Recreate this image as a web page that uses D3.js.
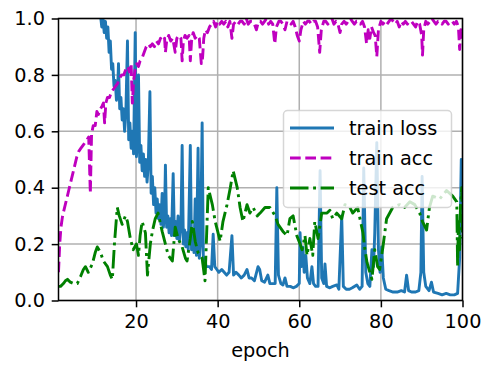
<!DOCTYPE html>
<html>
<head>
<meta charset="utf-8">
<script src="https://cdn.jsdelivr.net/npm/d3@7"></script>
<style>
  html, body { margin: 0; padding: 0; background: #fff; }
  svg { display: block; }
  text { font-family: "DejaVu Sans", sans-serif; }
</style>
</head>
<body>
<svg id="chart" width="486" height="365"></svg>
<script>
// ---- data: training curves recorded over 100 epochs ----
const xTicks = [20, 40, 60, 80, 100];
const yTicks = [0.0, 0.2, 0.4, 0.6, 0.8, 1.0];
const seriesNames = ["train loss", "train acc", "test acc"];

const lossEpochs = [
  1, 2, 3, 4, 5, 6, 7, 8, 9, 10,
  10.7, 11.3, 11.6, 11.9, 12.2, 12.5, 12.8, 13.1, 13.4, 13.7,
  14.0, 14.3, 14.6, 14.9, 15.2, 15.5, 15.7, 16.0, 16.3, 16.6,
  16.9, 17.2, 17.5, 17.9, 18.2, 18.5, 18.8, 19.1, 19.4, 19.8,
  20.1, 20.4, 20.6, 20.9, 21.2, 21.5, 21.8, 22.1, 22.4, 22.7,
  23.0, 23.4, 23.7, 24.0, 24.3, 24.6, 24.9, 25.2, 25.5, 25.8,
  26.1, 26.4, 26.7, 27.0, 27.2, 27.5, 27.8, 28.1, 28.4, 28.7,
  29.1, 29.4, 29.7, 30.0, 30.3, 30.6, 31.0, 31.3, 31.6, 31.9,
  32.2, 32.5, 32.8, 33.3, 33.6, 33.9, 34.2, 34.5, 34.8, 35.2,
  35.5, 35.8, 36.2, 36.5, 36.8, 37.2, 37.5, 38.0, 38.5, 38.9,
  39.3, 39.8, 40.3, 41.0, 41.6, 42.2, 42.8, 43.5, 43.9, 44.5,
  45.2, 45.8, 46.5, 47.2, 47.7, 48.3, 49.0, 49.9, 50.3, 50.8,
  51.5, 52.3, 52.8, 53.5, 54.1, 54.5, 54.9, 55.5, 56.0, 56.5,
  57.0, 57.8, 58.5, 59.3, 60.0, 60.2, 60.5, 60.9, 61.2, 61.6,
  62.0, 62.6, 63.1, 63.5, 64.0, 64.6, 65.1, 65.5, 66.0, 66.3,
  66.7, 67.5, 68.2, 69.2, 69.7, 70.4, 70.8, 71.5, 72.3, 73.0,
  74.1, 74.8, 75.4, 75.8, 76.3, 76.8, 77.3, 77.8, 78.2, 78.5,
  79.0, 79.4, 79.8, 80.2, 80.6, 81.2, 82.0, 83.0, 84.0, 85.0,
  85.8, 86.3, 86.8, 87.5, 88.5, 89.3, 89.8, 90.1, 90.5, 91.0,
  91.8, 92.4, 92.9, 94.0, 95.0, 96.0, 97.0, 98.0, 98.8, 99.3,
  99.7, 100];
const lossValues = [
  2.30, 2.10, 1.95, 1.80, 1.65, 1.55, 1.45, 1.35, 1.25, 1.15,
  1.07, 1.01, 0.97, 1.00, 0.95, 0.99, 0.93, 0.97, 0.88, 0.92,
  0.82, 0.84, 0.76, 0.78, 0.71, 0.75, 0.84, 0.68, 0.72, 0.64,
  0.68, 0.60, 0.66, 0.92, 0.57, 0.63, 0.54, 0.60, 0.52, 0.95,
  0.51, 0.58, 0.80, 0.49, 0.55, 0.46, 0.52, 0.44, 0.50, 0.42,
  0.48, 0.74, 0.38, 0.44, 0.34, 0.40, 0.31, 0.36, 0.29, 0.34,
  0.27, 0.38, 0.26, 0.31, 0.48, 0.26, 0.30, 0.24, 0.29, 0.23,
  0.45, 0.23, 0.28, 0.22, 0.30, 0.21, 0.26, 0.55, 0.20, 0.25,
  0.19, 0.24, 0.18, 0.55, 0.18, 0.23, 0.17, 0.36, 0.16, 0.54,
  0.15, 0.20, 0.63, 0.13, 0.15, 0.12, 0.12, 0.12, 0.11, 0.235,
  0.12, 0.11, 0.10, 0.11, 0.10, 0.09, 0.10, 0.23, 0.09, 0.10,
  0.09, 0.08, 0.09, 0.11, 0.08, 0.08, 0.07, 0.12, 0.11, 0.07,
  0.065, 0.09, 0.06, 0.06, 0.06, 0.40, 0.09, 0.06, 0.055, 0.08,
  0.05, 0.05, 0.045, 0.05, 0.06, 0.24, 0.12, 0.19, 0.10, 0.16,
  0.08, 0.06, 0.12, 0.06, 0.05, 0.05, 0.46, 0.08, 0.06, 0.13,
  0.05, 0.045, 0.05, 0.055, 0.04, 0.30, 0.05, 0.04, 0.04, 0.045,
  0.055, 0.04, 0.05, 0.47, 0.10, 0.06, 0.05, 0.18, 0.12, 0.24,
  0.56, 0.18, 0.10, 0.19, 0.08, 0.04, 0.035, 0.03, 0.03, 0.035,
  0.03, 0.09, 0.035, 0.03, 0.03, 0.035, 0.10, 0.44, 0.10, 0.05,
  0.035, 0.065, 0.03, 0.025, 0.02, 0.025, 0.02, 0.02, 0.025, 0.15,
  0.50, 0.48];

const trainAccEpochs = [1.0, 1.3, 1.6, 2.0, 2.5, 3.0, 3.5, 4.0, 4.5, 5.0, 5.5, 6.0, 6.5, 7.0, 7.5, 8.0, 8.4, 8.8, 9.1, 9.5,
  10.0, 10.4, 10.8, 11.3, 11.7, 12.0, 12.3, 12.6, 13.0, 13.5, 14.0, 14.5, 15.0, 15.5, 16.0, 16.5, 17.0, 17.5, 18.0, 18.4,
  18.8, 19.1, 19.4, 19.8, 20.2, 20.6, 21.0, 21.5, 22.0, 22.5, 23.0, 23.5, 24.0, 24.5, 25.0, 25.5, 26.0, 26.5, 27.0, 27.2,
  27.5, 28.0, 28.5, 29.0, 29.6, 30.0, 30.5, 31.0, 31.3, 31.6, 32.0, 32.5, 33.0, 33.3, 33.6, 34.0, 34.5, 35.0, 35.5, 36.0,
  36.3, 36.6, 37.0, 37.5, 38.0, 38.5, 39.0, 39.5, 40.0, 40.5, 41.0, 41.5, 42.0, 42.5, 43.0, 43.5, 43.9, 44.5, 45.0, 45.5,
  46.0, 46.5, 47.0, 47.5, 48.0, 48.5, 49.0, 49.5, 50.0, 50.5, 51.0, 51.5, 52.0, 52.5, 53.0, 53.5, 54.0, 54.4, 55.0, 55.5,
  56.0, 56.5, 57.0, 57.5, 58.0, 58.5, 59.0, 59.5, 60.0, 60.4, 61.0, 61.5, 62.0, 62.5, 63.0, 63.5, 64.0, 64.5, 65.0, 65.4,
  66.0, 66.5, 67.0, 67.5, 68.0, 68.5, 69.0, 69.5, 70.0, 70.4, 71.0, 71.5, 72.0, 72.5, 73.0, 73.5, 74.0, 74.5, 75.0, 75.5,
  76.0, 76.5, 76.9, 77.3, 77.7, 78.2, 78.6, 79.0, 79.4, 80.0, 80.5, 81.0, 81.5, 82.0, 82.5, 83.0, 83.5, 84.0, 84.5, 85.0,
  85.5, 86.0, 86.5, 87.0, 87.5, 88.0, 88.5, 89.0, 89.5, 90.0, 90.2, 90.5, 91.0, 91.5, 92.0, 92.5, 93.0, 93.5, 94.0, 94.5,
  95.0, 95.5, 96.0, 96.5, 97.0, 97.5, 98.0, 98.5, 99.0, 99.3, 99.6, 100.0];
const trainAccValues = [0.10, 0.20, 0.26, 0.30, 0.33, 0.36, 0.39, 0.42, 0.45, 0.48, 0.51, 0.53, 0.54, 0.55, 0.56, 0.57, 0.58, 0.38, 0.59, 0.62,
  0.62, 0.67, 0.66, 0.68, 0.69, 0.70, 0.63, 0.70, 0.72, 0.72, 0.74, 0.75, 0.76, 0.77, 0.79, 0.80, 0.80, 0.82, 0.83, 0.81,
  0.84, 0.70, 0.78, 0.82, 0.84, 0.83, 0.85, 0.86, 0.88, 0.90, 0.91, 0.90, 0.91, 0.90, 0.92, 0.91, 0.93, 0.92, 0.93, 0.88,
  0.92, 0.94, 0.92, 0.93, 0.88, 0.93, 0.94, 0.93, 0.85, 0.92, 0.94, 0.93, 0.94, 0.85, 0.92, 0.95, 0.93, 0.94, 0.93, 0.84,
  0.86, 0.93, 0.96, 0.95, 0.97, 0.98, 0.99, 0.97, 0.99, 0.98, 0.99, 0.98, 0.99, 0.97, 0.99, 0.93, 0.98, 0.99, 0.98, 0.99,
  0.99, 0.98, 1.00, 0.98, 0.99, 0.99, 0.98, 0.96, 0.99, 0.99, 0.98, 0.99, 1.00, 0.98, 0.99, 0.98, 0.91, 0.97, 0.99, 0.99,
  0.98, 0.96, 0.99, 0.99, 0.98, 0.99, 0.97, 0.94, 0.92, 0.96, 0.99, 0.98, 0.99, 0.99, 0.98, 0.99, 0.99, 0.97, 0.88, 0.96,
  0.99, 0.99, 0.98, 0.99, 1.00, 0.98, 0.99, 0.98, 0.95, 0.98, 0.99, 0.98, 0.99, 1.00, 0.99, 0.98, 0.99, 0.99, 0.98, 0.99,
  0.97, 0.91, 0.96, 0.93, 0.97, 0.95, 0.94, 0.865, 0.96, 0.99, 0.98, 0.99, 0.98, 0.99, 1.00, 0.99, 0.98, 0.99, 0.97, 0.99,
  0.98, 0.99, 0.98, 0.99, 0.99, 0.98, 0.97, 0.99, 0.98, 0.94, 0.87, 0.96, 0.99, 0.98, 0.99, 1.00, 0.99, 0.98, 0.99, 0.99,
  0.98, 0.99, 0.99, 0.98, 0.99, 0.99, 0.98, 0.99, 0.97, 0.89, 0.96, 0.93];

const testAccEpochs = [1.0, 1.5, 2.2, 2.7, 3.2, 3.9, 4.7, 5.6, 6.4, 7.1, 7.6, 8.3, 9.3, 10.0, 10.5, 11.3, 12.0, 13.0, 13.7, 14.2,
  14.7, 15.4, 15.9, 16.6, 17.4, 17.9, 18.6, 19.3, 20.1, 20.6, 21.0, 21.5, 22.3, 22.8, 23.5, 24.0, 24.7, 25.4, 26.4, 27.2,
  27.9, 28.9, 29.6, 30.3, 31.3, 32.1, 32.5, 33.3, 33.8, 34.5, 35.2, 36.2, 36.9, 37.7, 38.7, 39.4, 40.1, 40.6, 41.3, 42.3,
  43.1, 43.8, 44.8, 45.5, 46.2, 47.2, 47.9, 48.7, 49.7, 50.4, 51.6, 52.8, 54.1, 54.8, 56.0, 57.0, 57.7, 58.5, 59.4, 60.2,
  60.7, 61.4, 61.9, 62.6, 63.3, 63.8, 64.6, 65.5, 66.8, 67.5, 68.2, 69.2, 70.4, 71.2, 72.4, 73.1, 74.3, 75.6, 76.1, 76.6,
  77.3, 77.8, 78.5, 79.2, 79.7, 80.5, 81.4, 82.9, 84.6, 85.8, 87.1, 88.3, 89.5, 90.2, 91.2, 91.9, 92.7, 94.4, 96.1, 97.6,
  98.6, 98.8, 99.0, 99.3, 99.5, 99.8, 100.0];
const testAccValues = [0.05, 0.05, 0.06, 0.07, 0.075, 0.065, 0.06, 0.06, 0.085, 0.11, 0.12, 0.10, 0.13, 0.17, 0.19, 0.17, 0.14, 0.12, 0.09, 0.075,
  0.20, 0.33, 0.30, 0.27, 0.30, 0.28, 0.22, 0.18, 0.20, 0.16, 0.23, 0.28, 0.24, 0.09, 0.20, 0.245, 0.29, 0.31, 0.245, 0.20,
  0.16, 0.14, 0.26, 0.22, 0.19, 0.15, 0.14, 0.22, 0.28, 0.21, 0.17, 0.15, 0.07, 0.40, 0.34, 0.28, 0.24, 0.21, 0.28, 0.34,
  0.40, 0.46, 0.40, 0.33, 0.28, 0.34, 0.31, 0.33, 0.30, 0.31, 0.33, 0.33, 0.30, 0.27, 0.245, 0.23, 0.29, 0.30, 0.23, 0.20,
  0.18, 0.23, 0.16, 0.22, 0.16, 0.28, 0.22, 0.31, 0.31, 0.32, 0.29, 0.31, 0.29, 0.34, 0.33, 0.31, 0.33, 0.24, 0.18, 0.135,
  0.10, 0.075, 0.18, 0.12, 0.11, 0.19, 0.29, 0.33, 0.34, 0.33, 0.35, 0.34, 0.31, 0.28, 0.25, 0.33, 0.37, 0.36, 0.39, 0.37,
  0.35, 0.12, 0.28, 0.18, 0.33, 0.40, 0.22];

// ---- layout ----
const svg = d3.select("#chart");
const plot = { left: 58.5, right: 462.5, top: 18.5, bottom: 300.5 };
const FONT = 19.3;

const x = d3.scaleLinear().domain([1, 100]).range([plot.left, plot.right]);
const y = d3.scaleLinear().domain([0, 1]).range([plot.bottom, plot.top]);

svg.append("defs").append("clipPath").attr("id", "plot-clip")
  .append("rect")
  .attr("x", plot.left).attr("y", plot.top)
  .attr("width", plot.right - plot.left).attr("height", plot.bottom - plot.top);

// grid
const grid = svg.append("g").attr("stroke", "#b0b0b0").attr("stroke-width", 1.5);
grid.selectAll("line.gx").data(xTicks).join("line")
  .attr("x1", d => x(d)).attr("x2", d => x(d))
  .attr("y1", plot.top).attr("y2", plot.bottom);
grid.selectAll("line.gy").data(yTicks).join("line")
  .attr("x1", plot.left).attr("x2", plot.right)
  .attr("y1", d => y(d)).attr("y2", d => y(d));

// curves
const series = [
  { name: seriesNames[0], xs: lossEpochs, ys: lossValues, color: "#1f77b4", dash: null },
  { name: seriesNames[1], xs: trainAccEpochs, ys: trainAccValues, color: "#bf00bf", dash: "10.7,4.6" },
  { name: seriesNames[2], xs: testAccEpochs, ys: testAccValues, color: "#008000", dash: "18.5,4.6,2.9,4.6" }
];

const line = d3.line().x(d => x(d[0])).y(d => y(d[1]));
const curves = svg.append("g").attr("clip-path", "url(#plot-clip)");
series.forEach(s => {
  curves.append("path")
    .datum(s.xs.map((e, i) => [e, s.ys[i]]))
    .attr("d", line)
    .attr("fill", "none")
    .attr("stroke", s.color)
    .attr("stroke-width", 2.9)
    .attr("stroke-linejoin", "round")
    .attr("stroke-dasharray", s.dash);
});

// axes
const xAxis = d3.axisBottom(x).tickValues(xTicks).tickFormat(d3.format("d"))
  .tickSize(6.8).tickPadding(6.8);
const yAxis = d3.axisLeft(y).tickValues(yTicks).tickFormat(d3.format(".1f"))
  .tickSize(6.8).tickPadding(6.8);

const gx = svg.append("g").attr("transform", `translate(0,${plot.bottom})`).call(xAxis);
const gy = svg.append("g").attr("transform", `translate(${plot.left},0)`).call(yAxis);
[gx, gy].forEach(g => {
  g.select(".domain").remove();
  g.selectAll(".tick line").attr("stroke", "#000").attr("stroke-width", 1.5);
  g.selectAll(".tick text").attr("fill", "#000")
    .style("font-size", FONT + "px").style("font-family", "DejaVu Sans");
});

// frame
svg.append("rect")
  .attr("x", plot.left).attr("y", plot.top)
  .attr("width", plot.right - plot.left).attr("height", plot.bottom - plot.top)
  .attr("fill", "none").attr("stroke", "#000").attr("stroke-width", 1.5);

// x label
svg.append("text")
  .attr("x", (plot.left + plot.right) / 2).attr("y", 357)
  .attr("text-anchor", "middle")
  .style("font-size", FONT + "px")
  .attr("fill", "#000")
  .text("epoch");

// legend
const legend = svg.append("g");
legend.append("rect")
  .attr("x", 283.5).attr("y", 110.5).attr("width", 168).attr("height", 97).attr("rx", 4)
  .attr("fill", "#fff").attr("fill-opacity", 0.8)
  .attr("stroke", "#cccccc").attr("stroke-opacity", 0.8).attr("stroke-width", 1.5);
series.forEach((s, i) => {
  const cy = 128 + i * 30;
  legend.append("line")
    .attr("x1", 290).attr("x2", 334).attr("y1", cy).attr("y2", cy)
    .attr("stroke", s.color).attr("stroke-width", 2.9)
    .attr("stroke-dasharray", s.dash);
  legend.append("text")
    .attr("x", 349).attr("y", cy + 7)
    .style("font-size", FONT + "px")
    .attr("fill", "#000")
    .text(s.name);
});
</script>
</body>
</html>
